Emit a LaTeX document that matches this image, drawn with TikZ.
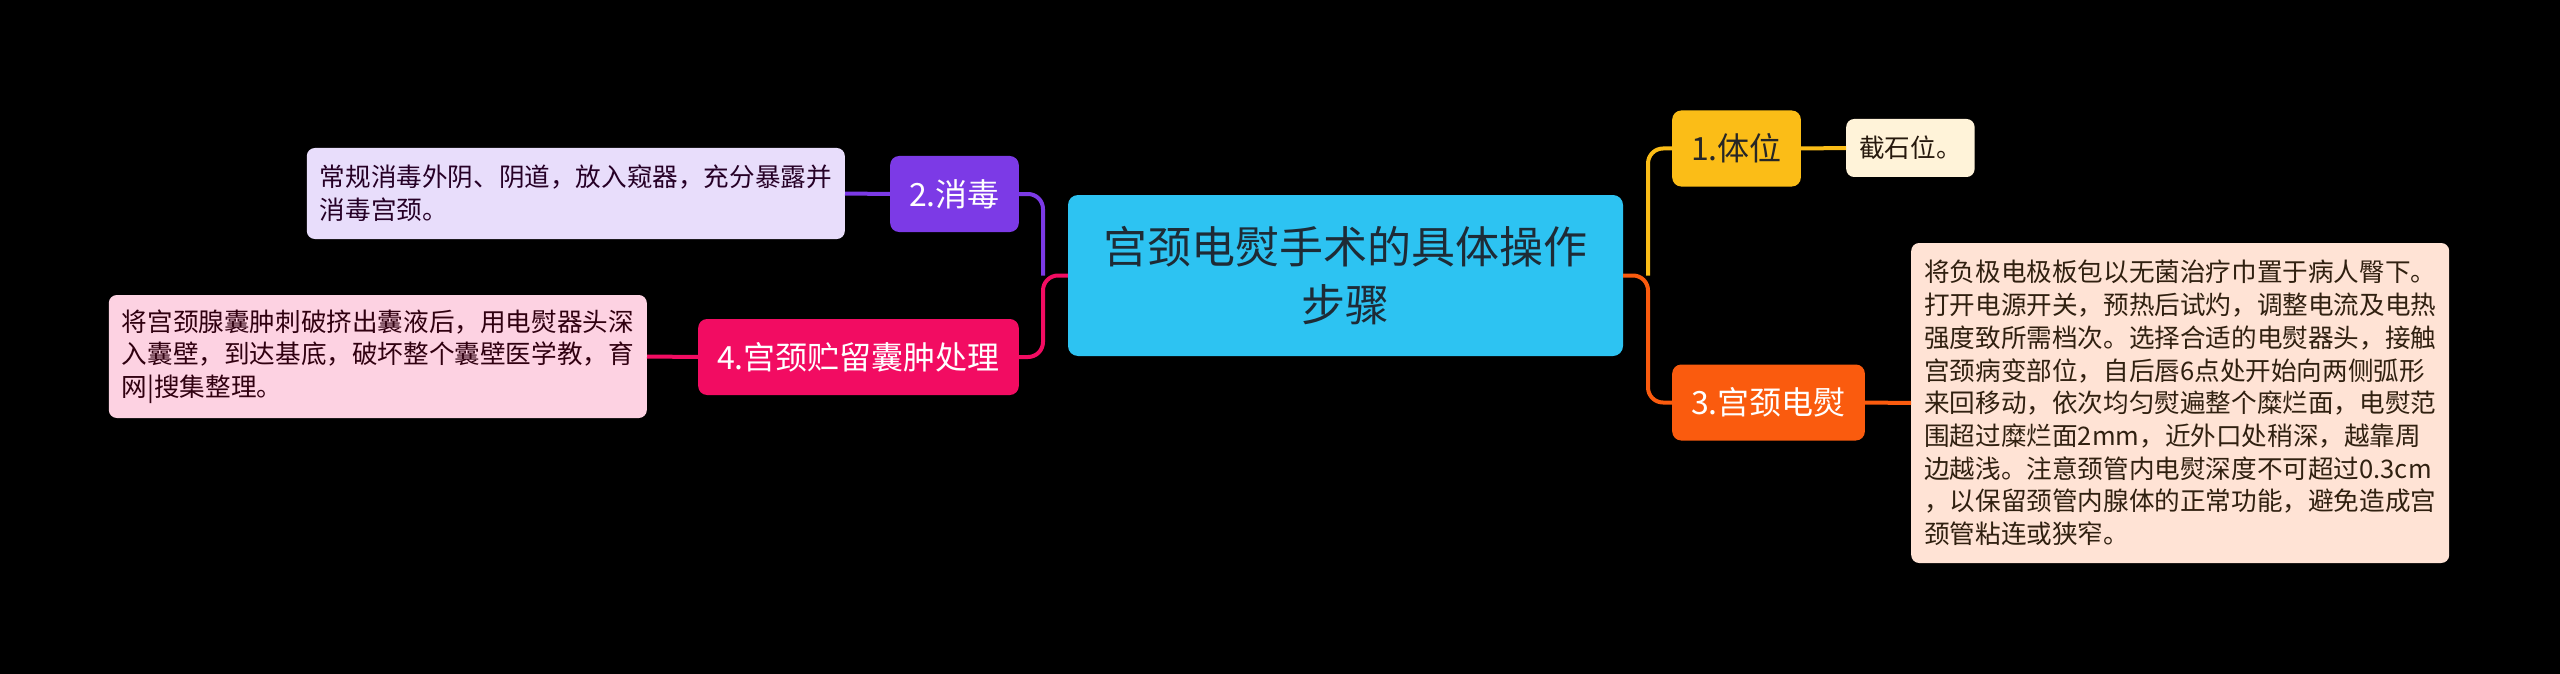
\documentclass[tikz,border=0pt]{standalone}
\usepackage{fontspec}
\setmainfont{Noto Sans CJK SC}
\usepackage{tikz}
\usetikzlibrary{calc}
\definecolor{rootblue}{HTML}{2DC3F2}
\definecolor{roottext}{HTML}{1E2B36}
\definecolor{posyellow}{HTML}{FBBD17}
\definecolor{poscream}{HTML}{FFF3D9}
\definecolor{burnorange}{HTML}{FA5B0E}
\definecolor{burnpeach}{HTML}{FFE3D5}
\definecolor{cleanpurple}{HTML}{7C3AE6}
\definecolor{cleanlilac}{HTML}{E8DDFB}
\definecolor{cystpink}{HTML}{F20C62}
\definecolor{cystrose}{HTML}{FDD2E2}
\tikzset{
	topic/.style={rounded corners=9pt, inner xsep=19pt, inner ysep=0pt, minimum height=76pt, font=\fontsize{32}{38}\selectfont},
	detail/.style={rounded corners=8pt, inner xsep=13pt, inner ysep=0pt, align=left, font=\fontsize{25.6}{32.7}\selectfont},
	link/.style={line width=4pt, rounded corners=15pt},
}

\begin{document}
\begin{tikzpicture}[x=1pt,y=-1pt]
		%%%%% START %%%%%
		
		\fill[black] (0,0) rectangle (2560,674);
		\useasboundingbox (0,0) rectangle (2560,674);
		
		\node[fill=rootblue, text=roottext, rounded corners=10pt, minimum width=555pt, minimum height=161pt, text width=484pt, align=center, font=\fontsize{44}{58}\selectfont] (root) at (1345.5,275.5) {宫颈电熨手术的具体操作\\步骤};
		\coordinate (rj) at (1648,275.5);
		\coordinate (lj) at (1043,275.5);
		
		% right side
		\node[topic, fill=posyellow, text=black!85, anchor=west] (pos) at (1672,148.5) {1.体位};
		\node[detail, fill=poscream, text=black!80!brown, minimum height=58pt, anchor=west] (posd) at (1846,148) {截石位。};
		\node[topic, fill=burnorange, text=white, anchor=west] (burn) at (1672,402.5) {3.宫颈电熨};
		\node[detail, fill=burnpeach, text=black!75!brown, minimum height=320pt, anchor=west] (burnd) at (1911,403) {将负极电极板包以无菌治疗巾置于病人臀下。\\打开电源开关，预热后试灼，调整电流及电热\\强度致所需档次。选择合适的电熨器头，接触\\宫颈病变部位，自后唇6点处开始向两侧弧形\\来回移动，依次均匀熨遍整个糜烂面，电熨范\\围超过糜烂面2mm，近外口处稍深，越靠周\\边越浅。注意颈管内电熨深度不可超过0.3cm\\，以保留颈管内腺体的正常功能，避免造成宫\\颈管粘连或狭窄。};
		
		% left side
		\node[topic, fill=cleanpurple, text=white, anchor=east] (clean) at (1019,194) {2.消毒};
		\node[detail, fill=cleanlilac, text=black!70!violet, minimum height=91pt, anchor=east] (cleand) at (845,193.5) {常规消毒外阴、阴道，放入窥器，充分暴露并\\消毒宫颈。};
		\node[topic, fill=cystpink, text=white, anchor=east] (cyst) at (1019,357) {4.宫颈贮留囊肿处理};
		\node[detail, fill=cystrose, text=black!75!purple, minimum height=123pt, anchor=east] (cystd) at (647,356.5) {将宫颈腺囊肿刺破挤出囊液后，用电熨器头深\\入囊壁，到达基底，破坏整个囊壁医学教，育\\网|搜集整理。};
		
		\draw[link, burnorange] (root.east) -- (rj) |- (burn.west);
		\draw[link, posyellow] (rj) |- (pos.west);
		\draw[link, cystpink] (root.west) -- (lj) |- (cyst.east);
		\draw[link, cleanpurple] (lj) |- (clean.east);
		
		\draw[link, posyellow] (pos.east) -- (posd.west);
		\draw[link, burnorange] (burn.east) -- (burnd.west);
		\draw[link, cleanpurple] (clean.west) -- (cleand.east);
		\draw[link, cystpink] (cyst.west) -- (cystd.east);
		
		%%%%% END %%%%%
	\end{tikzpicture}
\end{document}
